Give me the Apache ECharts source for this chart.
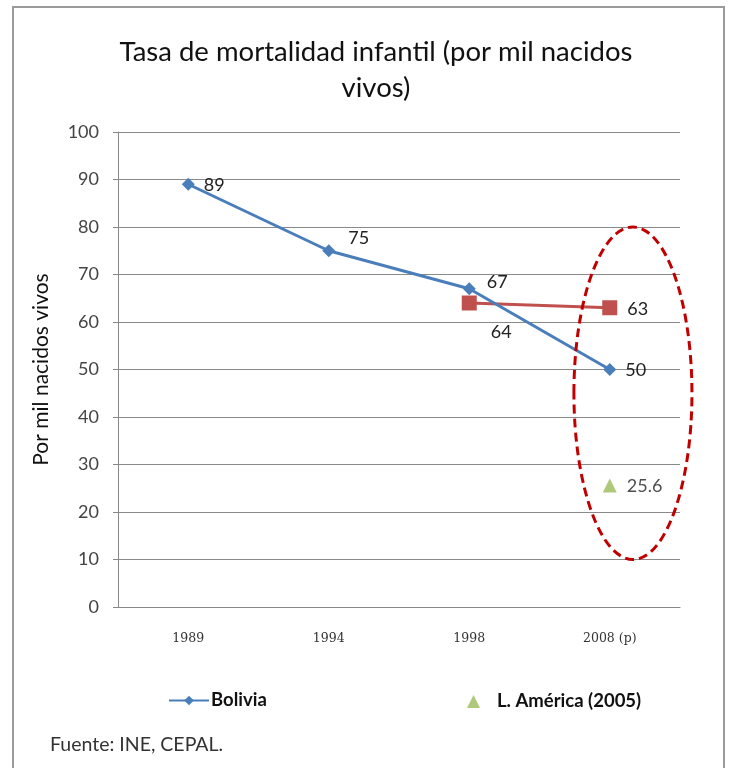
<!DOCTYPE html>
<html><head><meta charset="utf-8">
<script src="https://cdn.jsdelivr.net/npm/echarts@6/dist/echarts.min.js"></script>
<style>html,body{margin:0;padding:0;background:#fff}#c{width:729px;height:768px}</style>
</head><body><div id="c"></div>
<script>
const categories = ['1989', '1994', '1998', '2008 (p)'];
const bolivia = [89, 75, 67, 50];
const seriesRed = [null, null, 64, 63];
const latam = [null, null, null, 25.6];
const yTicks = [0, 10, 20, 30, 40, 50, 60, 70, 80, 90, 100];

const FONT = 'Lato, "Open Sans", sans-serif';
const chart = echarts.init(document.getElementById('c'));
const lbl = {show: true, fontFamily: FONT, fontSize: 18, color: '#222'};
const option = {
  animation: false,
  backgroundColor: '#fff',
  title: {
    text: 'Tasa de mortalidad infantil (por mil nacidos\nvivos)',
    left: 371, top: 29, textAlign: 'center',
    textStyle: {fontFamily: FONT, fontSize: 27.5, fontWeight: 'normal', color: '#111', lineHeight: 36}
  },
  grid: {left: 118, right: 49, top: 132, bottom: 161},
  legend: [{
    data: ['Bolivia'], left: 163, top: 686, itemWidth: 40, itemHeight: 12, itemGap: 4,
    textStyle: {fontFamily: FONT, fontSize: 18.5, fontWeight: 'bold', color: '#111', padding: [0,0,0,-3]}
  }, {
    data: ['L. América (2005)'], left: 462, top: 687, itemWidth: 13, itemHeight: 13,
    textStyle: {fontFamily: FONT, fontSize: 18.5, fontWeight: 'bold', color: '#111', padding: [0,0,0,12]}
  }],
  xAxis: {
    type: 'category', data: categories, boundaryGap: true,
    axisLine: {lineStyle: {color: '#888', width: 1}},
    axisTick: {show: false},
    axisLabel: {fontFamily: '"DejaVu Serif", serif', fontSize: 12.5, color: '#333', margin: 25}
  },
  yAxis: {
    type: 'value', min: yTicks[0], max: yTicks[yTicks.length - 1], interval: 10,
    name: 'Por mil nacidos vivos', nameLocation: 'middle', nameGap: 66, nameRotate: 90,
    nameTextStyle: {fontFamily: FONT, fontSize: 21, color: '#111'},
    axisLine: {show: true, lineStyle: {color: '#888'}},
    axisTick: {show: true, length: 5, lineStyle: {color: '#888'}},
    axisLabel: {fontFamily: FONT, fontSize: 18, color: '#444', margin: 19},
    splitLine: {lineStyle: {color: '#8a8a8a', width: 1}}
  },
  series: [{
    name: 'Bolivia', type: 'line', data: bolivia.map((v, i) => {
      const pos = [
        {position: 'right', offset: [4, 1]},
        {position: 'right', offset: [8, -13]},
        {position: 'right', offset: [6, -7]},
        {position: 'right', offset: [4, 1]}][i];
      return {value: v, label: Object.assign({}, lbl, pos)};
    }),
    symbol: 'diamond', symbolSize: 13,
    lineStyle: {color: '#4a7ebb', width: 3}, itemStyle: {color: '#4a7ebb'},
    label: lbl, z: 3
  }, {
    name: 'Referencia', type: 'line', data: seriesRed.map((v, i) => {
      if (v == null) return null;
      const pos = i === 2 ? {position: 'bottom', offset: [32, 8]} : {position: 'right', offset: [5, 1]};
      return {value: v, label: Object.assign({}, lbl, pos)};
    }),
    symbol: 'rect', symbolSize: 15,
    lineStyle: {color: '#c0504d', width: 3}, itemStyle: {color: '#c0504d'}, z: 2
  }, {
    name: 'L. América (2005)', type: 'scatter', data: latam,
    symbol: 'triangle', symbolSize: 14, itemStyle: {color: '#9bbb59'},
    label: Object.assign({}, lbl, {position: 'right', offset: [5, 1]})
  }],
  graphic: [{
    type: 'rect', shape: {x: 13, y: 7, width: 711, height: 770},
    style: {fill: 'none', stroke: '#9a9a9a', lineWidth: 2}, silent: true
  }, {
    type: 'text', left: 50, top: 735,
    style: {text: 'Fuente: INE, CEPAL.', fontFamily: FONT, fontSize: 19.5, fill: '#333'}
  }]
};
chart.setOption(option);
const pTop = chart.convertToPixel({gridIndex: 0}, ['2008 (p)', 80]);
const pBot = chart.convertToPixel({gridIndex: 0}, ['2008 (p)', 10]);
const band = chart.convertToPixel({gridIndex: 0}, ['2008 (p)', 0])[0] - chart.convertToPixel({gridIndex: 0}, ['1998', 0])[0];
chart.setOption({graphic: [{}, {}, {
  type: 'ellipse',
  shape: {cx: pTop[0] + band * 0.165, cy: (pTop[1] + pBot[1]) / 2, rx: band * 0.42, ry: (pBot[1] - pTop[1]) / 2},
  style: {fill: 'none', stroke: '#c00000', lineWidth: 3, lineDash: [9, 5]}, silent: true, z: 10
}]});
</script></body></html>
